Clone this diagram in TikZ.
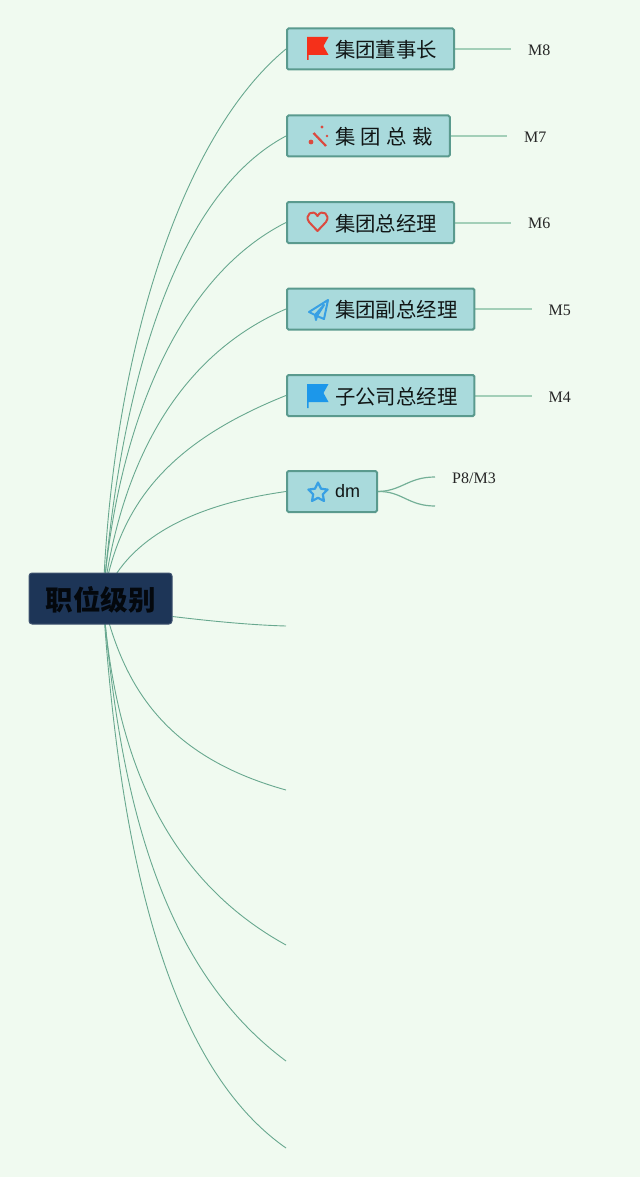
\documentclass[tikz,border=0pt]{standalone}
\usepackage{fontspec}
\setmainfont{Liberation Serif}
\newfontfamily\cjkfont{Noto Sans CJK SC}
\newfontfamily\dmfont{Liberation Sans}
\pgfdeclarelayer{bg}\pgfdeclarelayer{links}
\pgfsetlayers{bg,links,main}
\definecolor{paper}{HTML}{F0FAF0}
\definecolor{boxfill}{HTML}{A9DADC}
\definecolor{boxline}{HTML}{5A9A8E}
\definecolor{rootfill}{HTML}{1D3557}
\definecolor{trunk}{HTML}{68A88F}
\definecolor{branch}{HTML}{A3CFB8}
\definecolor{iconred}{HTML}{F5301A}
\definecolor{iconcoral}{HTML}{DB4A3F}
\definecolor{iconblue}{HTML}{38A0E4}
\definecolor{flagblue}{HTML}{1C97EA}
\tikzset{
  x=1pt,y=-1pt,
  root/.style={draw=rootfill!85!white,line width=1pt,fill=rootfill,rounded corners=3pt,minimum width=143pt,minimum height=51pt,inner sep=0pt,text=black!85!rootfill,font=\cjkfont\bfseries\fontsize{27.5}{30}\selectfont},
  leaf/.style={draw=boxline,line width=2pt,fill=boxfill,rounded corners=1.5pt,anchor=west,minimum height=41pt,inner ysep=0pt,inner xsep=0pt,align=left,text=black!90!boxfill,font=\cjkfont\fontsize{20.4}{24}\selectfont},
  tag/.style={anchor=west,inner sep=0pt,text=black!85,font=\fontsize{16}{18}\selectfont},
  curve/.style={draw=trunk,line width=0.9pt},
  stub/.style={draw=branch,line width=2pt,shorten >=17pt},
  fork/.style={draw=trunk!80!branch,line width=1.2pt},
}
\newcommand{\leaftext}[2][8.8pt]{\hspace*{48pt}\raisebox{-#1}[0pt][0pt]{#2}\hspace*{17pt}}
\begin{document}
\begin{tikzpicture}
\useasboundingbox (0,0) rectangle (640,1177);
\begin{pgfonlayer}{bg}
\fill[paper] (0,0) rectangle (640,1177);
\end{pgfonlayer}

\node[root] (r) at (100.5,598.5) {\raisebox{-12pt}[0pt][0pt]{职位级别}};

\node[leaf] (a) at (286,49) {\leaftext{集团董事长}};
\node[leaf] (b) at (286,136) {\leaftext{集\hspace{5.4pt}团\hspace{5.4pt}总\hspace{5.4pt}裁}};
\node[leaf] (c) at (286,222.5) {\leaftext{集团总经理}};
\node[leaf] (d) at (286,309) {\leaftext{集团副总经理}};
\node[leaf] (e) at (286,395.5) {\leaftext{子公司总经理}};
\node[leaf] (f) at (286,491.5) {\leaftext[5.5pt]{\dmfont\fontsize{18}{24}\selectfont dm}};

\node[tag] (ma) at (528,50) {M8};
\node[tag] (mb) at (524,137) {M7};
\node[tag] (mc) at (528,223.5) {M6};
\node[tag] (md) at (548.5,310) {M5};
\node[tag] (me) at (548.5,397) {M4};
\node[tag] (mf) at (452,478) {P8/M3};

\coordinate (s) at (103,600);
\coordinate (fa) at (435,477);
\coordinate (fb) at (435,506);
\coordinate (g1) at (286,626);
\coordinate (g2) at (286,790);
\coordinate (g3) at (286,945);
\coordinate (g4) at (286,1061);
\coordinate (g5) at (286,1148);

\begin{pgfonlayer}{links}
\draw[curve] (s) .. controls (112,350) and (182,135) .. (a.west);
\draw[curve] (s) .. controls (120,385) and (175,195) .. (b.west);
\draw[curve] (s) .. controls (115,440) and (172,280) .. (c.west);
\draw[curve] (s) .. controls (118,480) and (168,360) .. (d.west);
\draw[curve] (s) .. controls (118,510) and (162,445) .. (e.west);
\draw[curve] (s) .. controls (125,540) and (190,505) .. (f.west);
\draw[curve] (r.east) ++(0,18) .. controls (210,621) and (250,625) .. (g1);
\draw[curve] (s) .. controls (122,680) and (160,755) .. (g2);
\draw[curve] (s) .. controls (113,730) and (150,870) .. (g3);
\draw[curve] (s) .. controls (118,770) and (150,960) .. (g4);
\draw[curve] (s) .. controls (118,830) and (160,1060) .. (g5);
\draw[stub] (a.east) -- (a.east -| ma.west);
\draw[stub] (b.east) -- (b.east -| mb.west);
\draw[stub] (c.east) -- (c.east -| mc.west);
\draw[stub] (d.east) -- (d.east -| md.west);
\draw[stub] (e.east) -- (e.east -| me.west);
\draw[fork] (f.east) .. controls (402,491) and (408,477) .. (fa);
\draw[fork] (f.east) .. controls (402,491) and (408,506) .. (fb);
\end{pgfonlayer}

% icons
\fill[iconred] (307,37) -- (328.5,37) -- (323.5,46) -- (328.5,55) -- (308.5,55) -- (308.5,60) -- (307,60) -- cycle;
\draw[iconcoral,line width=2.2pt] (313.5,133) -- (326,146);
\fill[iconcoral] (311,142) circle (2.4) (322,127) circle (1.7) (327,136) circle (1.4) (317,137) circle (1);
\draw[iconcoral,line width=2pt,line join=round] (317.5,231) -- (309,222) .. controls (304,215) and (313,208) .. (317.5,216) .. controls (322,208) and (331,215) .. (326,222) -- cycle;
\draw[iconblue,line width=2pt,line join=round] (328,300) -- (309,312) -- (315,315) -- (324,305) -- (317,316) -- (324,319) -- cycle (315,315) -- (316,320) -- (317,316);
\fill[flagblue] (307,384) -- (328.5,384) -- (323.5,393) -- (328.5,402) -- (308.5,402) -- (308.5,408) -- (307,408) -- cycle;
\draw[iconblue,line width=2.2pt,line join=round] (318,482.5) -- (321,488.7) -- (327.6,489.6) -- (322.8,494.3) -- (324,501) -- (318,497.8) -- (312,501) -- (313.2,494.3) -- (308.4,489.6) -- (315,488.7) -- cycle;
\end{tikzpicture}
\end{document}
